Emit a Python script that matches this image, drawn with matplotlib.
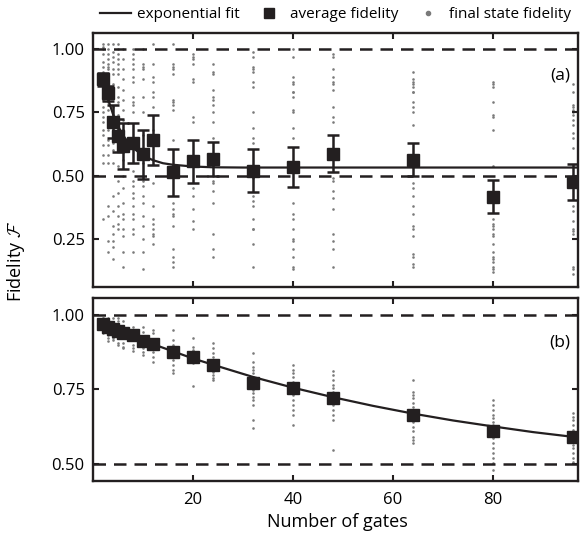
import numpy as np
import matplotlib.pyplot as plt

plt.rcParams['font.family'] = ['Open Sans', 'DejaVu Sans']
plt.rcParams['font.size'] = 12
plt.rcParams['mathtext.fontset'] = 'cm'

ink = '#231f20'

# number of gates for each measured point
gates = [2, 3, 4, 5, 6, 8, 10, 12, 16, 20, 24, 32, 40, 48, 64, 80, 96]

# (a) average fidelity and error
avg_a = [0.88, 0.826, 0.713, 0.657, 0.618, 0.629, 0.584, 0.641, 0.513, 0.556,
         0.566, 0.52, 0.535, 0.587, 0.563, 0.416, 0.475]
err_a = [0.025, 0.03, 0.065, 0.065, 0.09, 0.08, 0.096, 0.10, 0.092, 0.085,
         0.066, 0.084, 0.079, 0.074, 0.064, 0.065, 0.071]

# (a) exponential fit
fit_x_a = [2, 3, 4, 5, 6, 7, 8, 10, 12, 14, 16, 20, 24, 30, 40, 97]
fit_y_a = [0.88, 0.803, 0.743, 0.696, 0.660, 0.632, 0.610, 0.579, 0.561, 0.549,
           0.543, 0.536, 0.533, 0.532, 0.532, 0.532]

# (a) final state fidelities, one list per gate count
final_a = [
    [1.02, 1.01, 1.00, 0.98, 0.95, 0.93, 0.91, 0.83, 0.81, 0.80, 0.77, 0.75, 0.73, 0.71, 0.68, 0.66, 0.62, 0.58, 0.55, 0.33],
    [1.02, 1.00, 0.98, 0.96, 0.94, 0.93, 0.92, 0.90, 0.88, 0.81, 0.79, 0.76, 0.73, 0.68, 0.64, 0.62, 0.58, 0.55, 0.38, 0.34, 0.24, 0.20],
    [1.02, 0.99, 0.97, 0.95, 0.92, 0.90, 0.86, 0.83, 0.81, 0.77, 0.68, 0.63, 0.60, 0.55, 0.42, 0.36, 0.30, 0.27, 0.24, 0.22, 0.17],
    [1.02, 1.00, 0.98, 0.96, 0.94, 0.92, 0.90, 0.85, 0.81, 0.79, 0.74, 0.72, 0.70, 0.68, 0.62, 0.54, 0.48, 0.43, 0.38, 0.34, 0.31, 0.29],
    [1.00, 0.96, 0.92, 0.88, 0.84, 0.80, 0.76, 0.72, 0.68, 0.60, 0.56, 0.50, 0.45, 0.39, 0.35, 0.33, 0.29, 0.26, 0.20, 0.14],
    [1.00, 0.98, 0.96, 0.94, 0.92, 0.89, 0.87, 0.81, 0.79, 0.78, 0.75, 0.63, 0.52, 0.48, 0.46, 0.43, 0.41, 0.38, 0.35, 0.33, 0.29, 0.27, 0.20],
    [1.00, 0.94, 0.93, 0.92, 0.88, 0.81, 0.75, 0.66, 0.55, 0.50, 0.48, 0.46, 0.42, 0.39, 0.34, 0.30, 0.25, 0.20, 0.13],
    [1.02, 0.94, 0.89, 0.87, 0.83, 0.81, 0.77, 0.68, 0.64, 0.47, 0.38, 0.33, 0.31, 0.29, 0.27, 0.26, 0.23],
    [1.02, 0.94, 0.93, 0.92, 0.90, 0.80, 0.79, 0.78, 0.76, 0.64, 0.50, 0.39, 0.37, 0.35, 0.34, 0.30, 0.21, 0.18, 0.16, 0.14],
    [0.98, 0.97, 0.96, 0.94, 0.88, 0.87, 0.73, 0.71, 0.45, 0.42, 0.37, 0.32, 0.29],
    [0.94, 0.91, 0.90, 0.84, 0.81, 0.80, 0.78, 0.75, 0.71, 0.65, 0.50, 0.48, 0.47, 0.44, 0.39, 0.27, 0.21, 0.18],
    [0.99, 0.97, 0.93, 0.92, 0.91, 0.87, 0.85, 0.75, 0.69, 0.65, 0.63, 0.49, 0.42, 0.40, 0.38, 0.33, 0.29, 0.29, 0.23, 0.14],
    [1.00, 0.97, 0.89, 0.87, 0.86, 0.83, 0.83, 0.81, 0.76, 0.75, 0.69, 0.65, 0.39, 0.35, 0.33, 0.29, 0.25, 0.24, 0.21, 0.18, 0.14, 0.13],
    [0.98, 0.97, 0.92, 0.89, 0.87, 0.86, 0.84, 0.77, 0.73, 0.71, 0.49, 0.48, 0.44, 0.41, 0.37, 0.27, 0.24, 0.21, 0.14],
    [0.91, 0.88, 0.87, 0.86, 0.85, 0.83, 0.83, 0.79, 0.77, 0.75, 0.70, 0.47, 0.45, 0.42, 0.38, 0.35, 0.30, 0.29, 0.26, 0.19, 0.18, 0.15, 0.14],
    [0.87, 0.86, 0.85, 0.79, 0.74, 0.73, 0.68, 0.54, 0.33, 0.31, 0.30, 0.29, 0.27, 0.26, 0.23, 0.20, 0.18, 0.17, 0.16, 0.14, 0.13, 0.12],
    [0.86, 0.83, 0.78, 0.77, 0.76, 0.75, 0.74, 0.72, 0.70, 0.67, 0.65, 0.61, 0.38, 0.36, 0.32, 0.29, 0.28, 0.27, 0.14, 0.13, 0.11],
]

# (b) average fidelity
avg_b = [0.969, 0.961, 0.953, 0.946, 0.941, 0.933, 0.913, 0.902, 0.875, 0.860,
         0.832, 0.773, 0.754, 0.723, 0.664, 0.612, 0.592]

# (b) exponential fit
fit_x_b = [2, 4, 8, 12, 16, 20, 24, 32, 40, 48, 56, 64, 72, 80, 88, 96]
fit_y_b = [0.969, 0.955, 0.928, 0.902, 0.878, 0.854, 0.833, 0.792, 0.756, 0.724,
           0.695, 0.669, 0.646, 0.626, 0.607, 0.591]

# (b) final state fidelities
final_b = [
    [0.99, 0.99, 0.98, 0.97, 0.97, 0.96, 0.955, 0.95, 0.94],
    [0.99, 0.98, 0.97, 0.955, 0.944, 0.933, 0.922, 0.911],
    [0.99, 0.97, 0.96, 0.944, 0.933, 0.922, 0.916],
    [0.99, 0.98, 0.96, 0.944, 0.933, 0.922, 0.905, 0.899],
    [0.98, 0.96, 0.944, 0.933, 0.922, 0.905, 0.894, 0.888],
    [0.96, 0.95, 0.94, 0.93, 0.92, 0.90, 0.89, 0.88],
    [0.96, 0.944, 0.927, 0.911, 0.899, 0.888, 0.877, 0.866],
    [0.95, 0.94, 0.92, 0.905, 0.888, 0.877, 0.86, 0.843],
    [0.95, 0.916, 0.899, 0.888, 0.877, 0.866, 0.849, 0.832, 0.815, 0.804],
    [0.922, 0.894, 0.883, 0.871, 0.86, 0.849, 0.838, 0.76],
    [0.905, 0.888, 0.871, 0.86, 0.849, 0.832, 0.821, 0.81, 0.799, 0.787, 0.782],
    [0.871, 0.843, 0.827, 0.815, 0.804, 0.793, 0.782, 0.771, 0.759, 0.748, 0.737, 0.726, 0.715, 0.698, 0.648, 0.62],
    [0.832, 0.815, 0.804, 0.793, 0.776, 0.765, 0.754, 0.743, 0.732, 0.715, 0.698, 0.681, 0.664, 0.631],
    [0.812, 0.799, 0.782, 0.765, 0.754, 0.743, 0.732, 0.72, 0.709, 0.698, 0.681, 0.664, 0.648, 0.547],
    [0.782, 0.743, 0.732, 0.72, 0.704, 0.692, 0.676, 0.659, 0.642, 0.625, 0.609, 0.592, 0.581, 0.569],
    [0.715, 0.698, 0.681, 0.664, 0.653, 0.642, 0.631, 0.62, 0.603, 0.586, 0.569, 0.553, 0.536, 0.519, 0.502, 0.48],
    [0.67, 0.659, 0.648, 0.631, 0.614, 0.597, 0.586, 0.575, 0.564, 0.553, 0.536, 0.519, 0.508],
]

fig = plt.figure(figsize=(5.83, 5.34), dpi=100)
ax_a = fig.add_axes([0.1595, 0.4625, 0.832, 0.4755])
ax_b = fig.add_axes([0.1595, 0.0993, 0.832, 0.3427])


def draw_panel(ax, final, avg, fit_x, fit_y, err=None):
    for g, vals in zip(gates, final):
        ax.scatter([g] * len(vals), vals, s=3.5, color='#7a7a7a', lw=0, zorder=1)
    for y0 in (1.0, 0.5):
        ax.axhline(y0, color=ink, lw=1.8, ls=(0, (5, 3.2)), zorder=2)
    ax.plot(fit_x, fit_y, color=ink, lw=1.6, zorder=3)
    if err is not None:
        ax.errorbar(gates, avg, yerr=err, fmt='none', ecolor=ink, elinewidth=1.8,
                    capsize=4, capthick=1.8, zorder=4)
    ax.plot(gates, avg, 's', color=ink, ms=8.2, zorder=5)
    ax.set_xlim(0, 97)
    ax.set_xticks([20, 40, 60, 80])
    ax.tick_params(direction='in', top=True, right=True, length=4, width=1.5,
                   color=ink, labelsize=12, pad=6)
    for sp in ax.spines.values():
        sp.set_linewidth(1.7)
        sp.set_color(ink)


draw_panel(ax_a, final_a, avg_a, fit_x_a, fit_y_a, err_a)
ax_a.set_ylim(0.06, 1.063)
ax_a.set_yticks([0.25, 0.5, 0.75, 1.0])
ax_a.set_yticklabels(['0.25', '0.50', '0.75', '1.00'])
ax_a.tick_params(labelbottom=False)
ax_a.text(0.963, 0.835, '(a)', transform=ax_a.transAxes, ha='center', va='center', fontsize=12.5)

draw_panel(ax_b, final_b, avg_b, fit_x_b, fit_y_b)
ax_b.set_ylim(0.443, 1.057)
ax_b.set_yticks([0.5, 0.75, 1.0])
ax_b.set_yticklabels(['0.50', '0.75', '1.00'])
ax_b.tick_params(axis='x', pad=8)
ax_b.text(0.963, 0.754, '(b)', transform=ax_b.transAxes, ha='center', va='center', fontsize=12.5)

fig.text(0.579, 0.022, 'Number of gates', ha='center', va='center', fontsize=13)
fig.text(0.027, 0.51, r'Fidelity $\mathcal{F}$', rotation=90, ha='center', va='center', fontsize=13)

h_line, = ax_a.plot([], [], color=ink, lw=1.6)
h_sq, = ax_a.plot([], [], 's', color=ink, ms=7)
h_dot, = ax_a.plot([], [], 'o', color='#7a7a7a', ms=3)
fig.legend([h_line, h_sq, h_dot], ['exponential fit', 'average fidelity', 'final state fidelity'],
           loc='center', bbox_to_anchor=(0.576, 0.972), ncol=3, frameon=False,
           fontsize=11, handlelength=2.0, handletextpad=0.4, columnspacing=0.9,
           borderaxespad=0, borderpad=0)

plt.savefig('out.png', dpi=100)
